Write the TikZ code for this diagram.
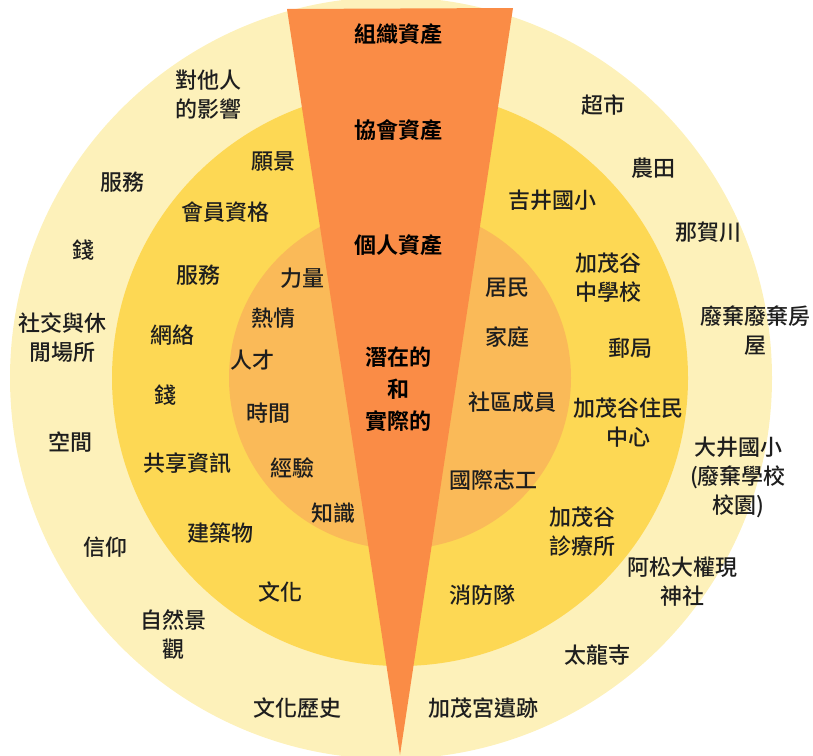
\documentclass[tikz,border=0pt]{standalone}
\usepackage{fontspec}
\setmainfont{Noto Sans CJK TC}[UprightFont={* Medium}, BoldFont={* Bold}]
\usepackage{xcolor}
\usetikzlibrary{positioning}
\definecolor{outerring}{RGB}{253,241,186}
\definecolor{middlering}{RGB}{253,216,84}
\definecolor{innerring}{RGB}{250,186,88}
\definecolor{wedgefill}{RGB}{250,140,70}
\definecolor{labeltext}{RGB}{30,30,30}
\tikzset{
        asset/.style={
          font=\fontsize{22}{29}\selectfont,
          text=labeltext, align=center, inner sep=0pt
          },
        wedgelabel/.style={
          font=\fontsize{22}{32}\selectfont\bfseries,
          text=black, align=center, inner sep=0pt
          },
}

\begin{document}
\begin{tikzpicture}[x=1pt, y=1pt]
      \useasboundingbox (0,0) rectangle (813,-755);
      % RINGS
      \coordinate (outerc) at (391,-378);
      \coordinate (ctr) at (400,-378);
      \fill[outerring] (outerc) circle (381);
      \fill[middlering] (ctr) circle (288);
      \fill[innerring] (ctr) circle (171);
      % WEDGE
      \coordinate (wtl) at (287,-9);
      \coordinate (wtr) at (513,-8);
      \coordinate (wapex) at (400,-755);
      \fill[wedgefill] (wtl) -- (wtr) -- (wapex) -- cycle;
      \node[wedgelabel] (org) at (398,-34) {組織資產};
      \node[wedgelabel] (assoc) at (398,-130) {協會資產};
      \node[wedgelabel] (indiv) at (398,-245) {個人資產};
      \node[wedgelabel] (potential) at (398,-389) {潛在的\\和\\實際的};

      % LEFT, OUTER RING
      \node[asset] (influence) at (208,-95) {對他人\\的影響};
      \node[asset] (serviceo) at (122,-182) {服務};
      \node[asset] (moneyo) at (83,-250) {錢};
      \node[asset] (leisure) at (62,-338) {社交與休\\閒場所};
      \node[asset] (space) at (70,-442) {空間};
      \node[asset] (belief) at (105,-547) {信仰};
      \node[asset] (landscape) at (173,-635) {自然景\\觀};
      \node[asset] (history) at (297,-708) {文化歷史};
      % LEFT, MIDDLE RING
      \node[asset] (vision) at (273,-162) {願景};
      \node[asset] (member) at (225,-212) {會員資格};
      \node[asset] (servicem) at (198,-275) {服務};
      \node[asset] (network) at (172,-335) {網絡};
      \node[asset] (moneym) at (165,-395) {錢};
      \node[asset] (sharing) at (187,-463) {共享資訊};
      \node[asset] (building) at (220,-533) {建築物};
      \node[asset] (culture) at (280,-592) {文化};
      % LEFT, INNER RING
      \node[asset] (strength) at (302,-278) {力量};
      \node[asset] (passion) at (273,-318) {熱情};
      \node[asset] (talent) at (252,-360) {人才};
      \node[asset] (time) at (268,-413) {時間};
      \node[asset] (experience) at (292,-468) {經驗};
      \node[asset] (knowledge) at (333,-513) {知識};

      % RIGHT, INNER RING
      \node[asset] (residents) at (507,-288) {居民};
      \node[asset] (family) at (507,-337) {家庭};
      \node[asset] (community) at (512,-402) {社區成員};
      \node[asset] (volunteer) at (493,-480) {國際志工};
      % RIGHT, MIDDLE RING
      \node[asset] (yoshii) at (552,-200) {吉井國小};
      \node[asset] (juniorhigh) at (608,-278) {加茂谷\\中學校};
      \node[asset] (postoffice) at (630,-348) {郵局};
      \node[asset] (centre) at (628,-423) {加茂谷住民\\中心};
      \node[asset] (clinic) at (582,-532) {加茂谷\\診療所};
      \node[asset] (firebrigade) at (482,-595) {消防隊};
      % RIGHT, OUTER RING
      \node[asset] (market) at (603,-105) {超市};
      \node[asset] (farm) at (653,-168) {農田};
      \node[asset] (river) at (708,-232) {那賀川};
      \node[asset] (houses) at (755,-331) {廢棄廢棄房\\屋};
      \node[asset] (oi) at (738,-477) {大井國小\\(廢棄學校\\校園)};
      \node[asset] (shrine) at (682,-582) {阿松大權現\\神社};
      \node[asset] (temple) at (597,-655) {太龍寺};
      \node[asset] (ruins) at (483,-708) {加茂宮遺跡};
\end{tikzpicture}
\end{document}
